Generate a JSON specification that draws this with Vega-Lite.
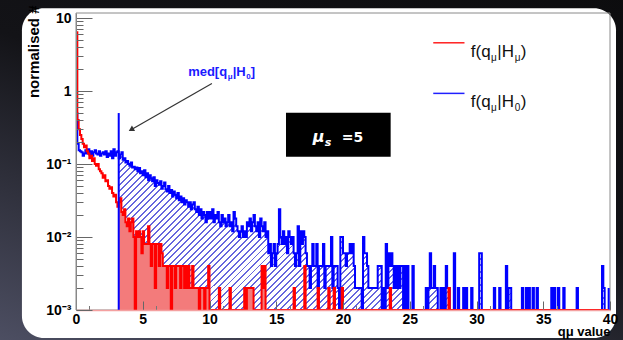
{
"$schema":"https://vega.github.io/schema/vega-lite/v6.json",
"width":534,"height":297,
"autosize":{"type":"none"},
"padding":{"left":76,"top":13,"right":13,"bottom":30},
"background":"#0e0e10",
"config":{"view":{"stroke":null},"axis":{"labelFont":"Liberation Sans","titleFont":"Liberation Sans"}},
"datasets":{
"one":[{}],
"hist":[
{"q":0,"h0":0.5,"hmu":6.4},{"q":0.1,"h0":0.19,"hmu":0.4},{"q":0.2,"h0":0.155,"hmu":0.3},{"q":0.3,"h0":0.15,"hmu":0.25},{"q":0.4,"h0":0.145,"hmu":0.22},{"q":0.5,"h0":0.13,"hmu":0.19},{"q":0.6,"h0":0.14,"hmu":0.17},{"q":0.7,"h0":0.155,"hmu":0.18},{"q":0.8,"h0":0.14,"hmu":0.15},{"q":0.9,"h0":0.16,"hmu":0.14},
{"q":1,"h0":0.135,"hmu":0.12},{"q":1.1,"h0":0.15,"hmu":0.13},{"q":1.2,"h0":0.13,"hmu":0.11},{"q":1.3,"h0":0.145,"hmu":0.12},{"q":1.4,"h0":0.155,"hmu":0.1},{"q":1.5,"h0":0.14,"hmu":0.095},{"q":1.6,"h0":0.135,"hmu":0.1},{"q":1.7,"h0":0.15,"hmu":0.085},{"q":1.8,"h0":0.13,"hmu":0.08},{"q":1.9,"h0":0.14,"hmu":0.075},
{"q":2,"h0":0.145,"hmu":0.065},{"q":2.1,"h0":0.135,"hmu":0.07},{"q":2.2,"h0":0.15,"hmu":0.058},{"q":2.3,"h0":0.125,"hmu":0.06},{"q":2.4,"h0":0.14,"hmu":0.05},{"q":2.5,"h0":0.13,"hmu":0.046},{"q":2.6,"h0":0.15,"hmu":0.048},{"q":2.7,"h0":0.12,"hmu":0.04},{"q":2.8,"h0":0.16,"hmu":0.036},{"q":2.9,"h0":0.13,"hmu":0.038},
{"q":3,"h0":0.145,"hmu":0.03},{"q":3.1,"h0":0.15,"hmu":0.026},{"q":3.2,"h0":0.12,"hmu":0.03},{"q":3.3,"h0":0.135,"hmu":0.034},{"q":3.4,"h0":0.145,"hmu":0.022},{"q":3.5,"h0":0.115,"hmu":0.02},{"q":3.6,"h0":0.12,"hmu":0.024},{"q":3.7,"h0":0.105,"hmu":0.016},{"q":3.8,"h0":0.11,"hmu":0.014},{"q":3.9,"h0":0.1,"hmu":0.018},
{"q":4,"h0":0.095,"hmu":0.012},{"q":4.1,"h0":0.105,"hmu":0.016},{"q":4.2,"h0":0.09,"hmu":0.018},{"q":4.3,"h0":0.092,"hmu":0.01},{"q":4.4,"h0":0.085,"hmu":0},{"q":4.5,"h0":0.09,"hmu":0.012},{"q":4.6,"h0":0.08,"hmu":0.01},{"q":4.7,"h0":0.088,"hmu":0.012},{"q":4.8,"h0":0.075,"hmu":0.01},{"q":4.9,"h0":0.08,"hmu":0.006},
{"q":5,"h0":0.07,"hmu":0.012},{"q":5.1,"h0":0.082,"hmu":0.008},{"q":5.2,"h0":0.066,"hmu":0.008},{"q":5.3,"h0":0.075,"hmu":0.008},{"q":5.4,"h0":0.06,"hmu":0.014},{"q":5.5,"h0":0.07,"hmu":0.008},{"q":5.6,"h0":0.064,"hmu":0.004},{"q":5.7,"h0":0.058,"hmu":0.008},{"q":5.8,"h0":0.066,"hmu":0.008},{"q":5.9,"h0":0.05,"hmu":0.002},
{"q":6,"h0":0.06,"hmu":0.008},{"q":6.1,"h0":0.055,"hmu":0.008},{"q":6.2,"h0":0.052,"hmu":0.004},{"q":6.3,"h0":0.058,"hmu":0.008},{"q":6.4,"h0":0.046,"hmu":0.006},{"q":6.5,"h0":0.05,"hmu":0.004},{"q":6.6,"h0":0.056,"hmu":0.004},{"q":6.7,"h0":0.045,"hmu":0.004},{"q":6.8,"h0":0.042,"hmu":0.002},{"q":6.9,"h0":0.05,"hmu":0.004},
{"q":7,"h0":0.04,"hmu":0.004},{"q":7.1,"h0":0.044,"hmu":0},{"q":7.2,"h0":0.036,"hmu":0.004},{"q":7.3,"h0":0.042,"hmu":0.004},{"q":7.4,"h0":0.038,"hmu":0.002},{"q":7.5,"h0":0.034,"hmu":0.004},{"q":7.6,"h0":0.04,"hmu":0.004},{"q":7.7,"h0":0.032,"hmu":0.004},{"q":7.8,"h0":0.036,"hmu":0.002},{"q":7.9,"h0":0.03,"hmu":0.004},
{"q":8,"h0":0.034,"hmu":0.004},{"q":8.1,"h0":0.028,"hmu":0.002},{"q":8.2,"h0":0.032,"hmu":0.004},{"q":8.3,"h0":0.03,"hmu":0.002},{"q":8.4,"h0":0.026,"hmu":0.004},{"q":8.5,"h0":0.03,"hmu":0.002},{"q":8.6,"h0":0.024,"hmu":0.002},{"q":8.7,"h0":0.028,"hmu":0.004},{"q":8.8,"h0":0.03,"hmu":0.002},{"q":8.9,"h0":0.024,"hmu":0.002},
{"q":9,"h0":0.022,"hmu":0.002},{"q":9.1,"h0":0.026,"hmu":0.002},{"q":9.2,"h0":0.02,"hmu":0},{"q":9.3,"h0":0.024,"hmu":0.002},{"q":9.4,"h0":0.018,"hmu":0.002},{"q":9.5,"h0":0.022,"hmu":0.002},{"q":9.6,"h0":0.02,"hmu":0},{"q":9.7,"h0":0.016,"hmu":0.002},{"q":9.8,"h0":0.022,"hmu":0.002},{"q":9.9,"h0":0.018,"hmu":0.004},
{"q":10,"h0":0.022,"hmu":0},{"q":10.1,"h0":0.018,"hmu":0},{"q":10.2,"h0":0.024,"hmu":0},{"q":10.3,"h0":0.016,"hmu":0},{"q":10.4,"h0":0.02,"hmu":0},{"q":10.5,"h0":0.018,"hmu":0},{"q":10.6,"h0":0.022,"hmu":0},{"q":10.7,"h0":0.016,"hmu":0.002},{"q":10.8,"h0":0.014,"hmu":0},{"q":10.9,"h0":0.02,"hmu":0},
{"q":11,"h0":0.016,"hmu":0},{"q":11.1,"h0":0.018,"hmu":0},{"q":11.2,"h0":0.014,"hmu":0},{"q":11.3,"h0":0.016,"hmu":0},{"q":11.4,"h0":0.02,"hmu":0},{"q":11.5,"h0":0.014,"hmu":0.002},{"q":11.6,"h0":0.016,"hmu":0},{"q":11.7,"h0":0.012,"hmu":0},{"q":11.8,"h0":0.022,"hmu":0},{"q":11.9,"h0":0.018,"hmu":0},
{"q":12,"h0":0.014,"hmu":0},{"q":12.1,"h0":0.012,"hmu":0},{"q":12.2,"h0":0.01,"hmu":0},{"q":12.3,"h0":0.012,"hmu":0},{"q":12.4,"h0":0.014,"hmu":0},{"q":12.5,"h0":0.01,"hmu":0},{"q":12.6,"h0":0.012,"hmu":0.002},{"q":12.7,"h0":0.01,"hmu":0},{"q":12.8,"h0":0.016,"hmu":0.002},{"q":12.9,"h0":0.014,"hmu":0.002},
{"q":13,"h0":0.018,"hmu":0.002},{"q":13.1,"h0":0.012,"hmu":0.002},{"q":13.2,"h0":0.016,"hmu":0.002},{"q":13.3,"h0":0.02,"hmu":0},{"q":13.4,"h0":0.014,"hmu":0},{"q":13.5,"h0":0.012,"hmu":0},{"q":13.6,"h0":0.016,"hmu":0},{"q":13.7,"h0":0.01,"hmu":0},{"q":13.8,"h0":0.018,"hmu":0},{"q":13.9,"h0":0.014,"hmu":0.004},
{"q":14,"h0":0.012,"hmu":0.002},{"q":14.1,"h0":0.016,"hmu":0.004},{"q":14.2,"h0":0.01,"hmu":0},{"q":14.3,"h0":0.012,"hmu":0},{"q":14.4,"h0":0.006,"hmu":0},{"q":14.5,"h0":0.008,"hmu":0},{"q":14.6,"h0":0.004,"hmu":0},{"q":14.7,"h0":0.006,"hmu":0},{"q":14.8,"h0":0.008,"hmu":0},{"q":14.9,"h0":0.004,"hmu":0},
{"q":15,"h0":0.006,"hmu":0},{"q":15.1,"h0":0.008,"hmu":0},{"q":15.2,"h0":0.024,"hmu":0},{"q":15.3,"h0":0.01,"hmu":0},{"q":15.4,"h0":0.008,"hmu":0},{"q":15.5,"h0":0.012,"hmu":0},{"q":15.6,"h0":0.008,"hmu":0},{"q":15.7,"h0":0.01,"hmu":0},{"q":15.8,"h0":0.006,"hmu":0},{"q":15.9,"h0":0.012,"hmu":0},
{"q":16,"h0":0.01,"hmu":0},{"q":16.1,"h0":0.008,"hmu":0},{"q":16.2,"h0":0.01,"hmu":0},{"q":16.3,"h0":0.006,"hmu":0.002},{"q":16.4,"h0":0.004,"hmu":0},{"q":16.5,"h0":0.006,"hmu":0},{"q":16.6,"h0":0.014,"hmu":0},{"q":16.7,"h0":0.004,"hmu":0},{"q":16.8,"h0":0.012,"hmu":0},{"q":16.9,"h0":0.008,"hmu":0},
{"q":17,"h0":0.012,"hmu":0},{"q":17.1,"h0":0.01,"hmu":0.004},{"q":17.2,"h0":0.006,"hmu":0},{"q":17.3,"h0":0.004,"hmu":0},{"q":17.4,"h0":0.004,"hmu":0},{"q":17.5,"h0":0.002,"hmu":0},{"q":17.6,"h0":0.004,"hmu":0},{"q":17.7,"h0":0.008,"hmu":0},{"q":17.8,"h0":0.004,"hmu":0},{"q":17.9,"h0":0.004,"hmu":0},
{"q":18,"h0":0.008,"hmu":0},{"q":18.1,"h0":0.002,"hmu":0.002},{"q":18.2,"h0":0.004,"hmu":0},{"q":18.3,"h0":0.004,"hmu":0},{"q":18.4,"h0":0.004,"hmu":0},{"q":18.5,"h0":0.008,"hmu":0},{"q":18.6,"h0":0.002,"hmu":0},{"q":18.7,"h0":0.004,"hmu":0},{"q":18.8,"h0":0.004,"hmu":0},{"q":18.9,"h0":0.004,"hmu":0.002},
{"q":19,"h0":0.004,"hmu":0},{"q":19.1,"h0":0.01,"hmu":0},{"q":19.2,"h0":0.002,"hmu":0},{"q":19.3,"h0":0.004,"hmu":0.002},{"q":19.4,"h0":0.004,"hmu":0},{"q":19.5,"h0":0.004,"hmu":0},{"q":19.6,"h0":0.002,"hmu":0},{"q":19.7,"h0":0,"hmu":0},{"q":19.8,"h0":0.01,"hmu":0},{"q":19.9,"h0":0.01,"hmu":0.002},
{"q":20,"h0":0.006,"hmu":0},{"q":20.1,"h0":0.006,"hmu":0},{"q":20.2,"h0":0.004,"hmu":0},{"q":20.3,"h0":0.006,"hmu":0},{"q":20.4,"h0":0.006,"hmu":0},{"q":20.5,"h0":0.008,"hmu":0},{"q":20.6,"h0":0.006,"hmu":0},{"q":20.7,"h0":0.008,"hmu":0},{"q":20.8,"h0":0.004,"hmu":0},{"q":20.9,"h0":0.002,"hmu":0},
{"q":21,"h0":0.002,"hmu":0},{"q":21.1,"h0":0.002,"hmu":0},{"q":21.2,"h0":0.002,"hmu":0},{"q":21.3,"h0":0.002,"hmu":0},{"q":21.4,"h0":0,"hmu":0},{"q":21.5,"h0":0.01,"hmu":0},{"q":21.6,"h0":0.006,"hmu":0},{"q":21.7,"h0":0.006,"hmu":0},{"q":21.8,"h0":0.004,"hmu":0},{"q":21.9,"h0":0.002,"hmu":0},
{"q":22,"h0":0.002,"hmu":0},{"q":22.1,"h0":0.002,"hmu":0},{"q":22.2,"h0":0.002,"hmu":0},{"q":22.3,"h0":0.002,"hmu":0},{"q":22.4,"h0":0.002,"hmu":0},{"q":22.5,"h0":0.002,"hmu":0},{"q":22.6,"h0":0.004,"hmu":0},{"q":22.7,"h0":0.004,"hmu":0},{"q":22.8,"h0":0.004,"hmu":0},{"q":22.9,"h0":0,"hmu":0},
{"q":23,"h0":0.002,"hmu":0},{"q":23.1,"h0":0,"hmu":0},{"q":23.2,"h0":0.008,"hmu":0},{"q":23.3,"h0":0.002,"hmu":0},{"q":23.4,"h0":0.006,"hmu":0},{"q":23.5,"h0":0.004,"hmu":0.002},{"q":23.6,"h0":0.006,"hmu":0},{"q":23.7,"h0":0.004,"hmu":0},{"q":23.8,"h0":0.002,"hmu":0},{"q":23.9,"h0":0.004,"hmu":0},
{"q":24,"h0":0.002,"hmu":0},{"q":24.1,"h0":0.004,"hmu":0},{"q":24.2,"h0":0.002,"hmu":0},{"q":24.3,"h0":0.004,"hmu":0},{"q":24.4,"h0":0.004,"hmu":0},{"q":24.5,"h0":0,"hmu":0},{"q":24.6,"h0":0.004,"hmu":0},{"q":24.7,"h0":0,"hmu":0},{"q":24.8,"h0":0.004,"hmu":0},{"q":24.9,"h0":0,"hmu":0},
{"q":25,"h0":0,"hmu":0},{"q":25.1,"h0":0,"hmu":0},{"q":25.2,"h0":0.004,"hmu":0},{"q":25.3,"h0":0,"hmu":0},{"q":25.4,"h0":0,"hmu":0},{"q":25.5,"h0":0,"hmu":0},{"q":25.6,"h0":0,"hmu":0},{"q":25.7,"h0":0,"hmu":0},{"q":25.8,"h0":0,"hmu":0},{"q":25.9,"h0":0,"hmu":0},
{"q":26,"h0":0,"hmu":0},{"q":26.1,"h0":0,"hmu":0},{"q":26.2,"h0":0.002,"hmu":0},{"q":26.3,"h0":0,"hmu":0},{"q":26.4,"h0":0.002,"hmu":0},{"q":26.5,"h0":0.006,"hmu":0},{"q":26.6,"h0":0.002,"hmu":0},{"q":26.7,"h0":0.002,"hmu":0},{"q":26.8,"h0":0.004,"hmu":0},{"q":26.9,"h0":0.002,"hmu":0},
{"q":27,"h0":0.002,"hmu":0},{"q":27.1,"h0":0,"hmu":0},{"q":27.2,"h0":0,"hmu":0},{"q":27.3,"h0":0.002,"hmu":0},{"q":27.4,"h0":0,"hmu":0},{"q":27.5,"h0":0.002,"hmu":0},{"q":27.6,"h0":0,"hmu":0},{"q":27.7,"h0":0.004,"hmu":0},{"q":27.8,"h0":0.002,"hmu":0},{"q":27.9,"h0":0.002,"hmu":0.002},
{"q":28,"h0":0,"hmu":0},{"q":28.1,"h0":0,"hmu":0},{"q":28.2,"h0":0,"hmu":0},{"q":28.3,"h0":0.006,"hmu":0},{"q":28.4,"h0":0,"hmu":0},{"q":28.5,"h0":0,"hmu":0},{"q":28.6,"h0":0.002,"hmu":0},{"q":28.7,"h0":0,"hmu":0},{"q":28.8,"h0":0,"hmu":0},{"q":28.9,"h0":0,"hmu":0},
{"q":29,"h0":0.002,"hmu":0},{"q":29.1,"h0":0,"hmu":0},{"q":29.2,"h0":0.002,"hmu":0},{"q":29.3,"h0":0,"hmu":0},{"q":29.4,"h0":0,"hmu":0},{"q":29.5,"h0":0,"hmu":0},{"q":29.6,"h0":0.002,"hmu":0},{"q":29.7,"h0":0,"hmu":0},{"q":29.8,"h0":0,"hmu":0},{"q":29.9,"h0":0,"hmu":0},
{"q":30,"h0":0,"hmu":0},{"q":30.1,"h0":0,"hmu":0},{"q":30.2,"h0":0.006,"hmu":0},{"q":30.3,"h0":0.006,"hmu":0},{"q":30.4,"h0":0,"hmu":0},{"q":30.5,"h0":0,"hmu":0},{"q":30.6,"h0":0,"hmu":0},{"q":30.7,"h0":0,"hmu":0},{"q":30.8,"h0":0,"hmu":0},{"q":30.9,"h0":0,"hmu":0},
{"q":31,"h0":0,"hmu":0},{"q":31.1,"h0":0,"hmu":0},{"q":31.2,"h0":0,"hmu":0},{"q":31.3,"h0":0.002,"hmu":0},{"q":31.4,"h0":0,"hmu":0},{"q":31.5,"h0":0,"hmu":0},{"q":31.6,"h0":0,"hmu":0},{"q":31.7,"h0":0.002,"hmu":0},{"q":31.8,"h0":0,"hmu":0},{"q":31.9,"h0":0,"hmu":0},
{"q":32,"h0":0,"hmu":0},{"q":32.1,"h0":0,"hmu":0},{"q":32.2,"h0":0.004,"hmu":0},{"q":32.3,"h0":0,"hmu":0},{"q":32.4,"h0":0.002,"hmu":0},{"q":32.5,"h0":0.002,"hmu":0},{"q":32.6,"h0":0,"hmu":0},{"q":32.7,"h0":0,"hmu":0},{"q":32.8,"h0":0,"hmu":0},{"q":32.9,"h0":0,"hmu":0},
{"q":33,"h0":0,"hmu":0},{"q":33.1,"h0":0,"hmu":0},{"q":33.2,"h0":0,"hmu":0},{"q":33.3,"h0":0,"hmu":0},{"q":33.4,"h0":0.002,"hmu":0},{"q":33.5,"h0":0,"hmu":0},{"q":33.6,"h0":0,"hmu":0},{"q":33.7,"h0":0.002,"hmu":0},{"q":33.8,"h0":0,"hmu":0},{"q":33.9,"h0":0.002,"hmu":0},
{"q":34,"h0":0,"hmu":0},{"q":34.1,"h0":0,"hmu":0},{"q":34.2,"h0":0.002,"hmu":0},{"q":34.3,"h0":0,"hmu":0},{"q":34.4,"h0":0,"hmu":0},{"q":34.5,"h0":0.002,"hmu":0},{"q":34.6,"h0":0,"hmu":0},{"q":34.7,"h0":0,"hmu":0},{"q":34.8,"h0":0,"hmu":0},{"q":34.9,"h0":0,"hmu":0},
{"q":35,"h0":0,"hmu":0},{"q":35.1,"h0":0,"hmu":0},{"q":35.2,"h0":0,"hmu":0},{"q":35.3,"h0":0,"hmu":0},{"q":35.4,"h0":0,"hmu":0},{"q":35.5,"h0":0,"hmu":0},{"q":35.6,"h0":0.002,"hmu":0},{"q":35.7,"h0":0,"hmu":0},{"q":35.8,"h0":0.002,"hmu":0},{"q":35.9,"h0":0,"hmu":0},
{"q":36,"h0":0,"hmu":0},{"q":36.1,"h0":0.002,"hmu":0},{"q":36.2,"h0":0,"hmu":0},{"q":36.3,"h0":0,"hmu":0},{"q":36.4,"h0":0,"hmu":0},{"q":36.5,"h0":0.002,"hmu":0},{"q":36.6,"h0":0,"hmu":0},{"q":36.7,"h0":0,"hmu":0},{"q":36.8,"h0":0,"hmu":0},{"q":36.9,"h0":0,"hmu":0},
{"q":37,"h0":0,"hmu":0},{"q":37.1,"h0":0,"hmu":0},{"q":37.2,"h0":0,"hmu":0},{"q":37.3,"h0":0,"hmu":0},{"q":37.4,"h0":0,"hmu":0},{"q":37.5,"h0":0.002,"hmu":0},{"q":37.6,"h0":0,"hmu":0},{"q":37.7,"h0":0,"hmu":0},{"q":37.8,"h0":0,"hmu":0},{"q":37.9,"h0":0,"hmu":0},
{"q":38,"h0":0,"hmu":0},{"q":38.1,"h0":0,"hmu":0},{"q":38.2,"h0":0,"hmu":0},{"q":38.3,"h0":0,"hmu":0},{"q":38.4,"h0":0,"hmu":0},{"q":38.5,"h0":0,"hmu":0},{"q":38.6,"h0":0,"hmu":0},{"q":38.7,"h0":0,"hmu":0},{"q":38.8,"h0":0,"hmu":0},{"q":38.9,"h0":0,"hmu":0},
{"q":39,"h0":0,"hmu":0},{"q":39.1,"h0":0,"hmu":0},{"q":39.2,"h0":0,"hmu":0},{"q":39.3,"h0":0,"hmu":0},{"q":39.4,"h0":0.004,"hmu":0},{"q":39.5,"h0":0.002,"hmu":0},{"q":39.6,"h0":0,"hmu":0},{"q":39.7,"h0":0,"hmu":0},{"q":39.8,"h0":0,"hmu":0},{"q":39.9,"h0":0.002,"hmu":0}
]},
"layer":[
{"data":{"name":"one"},"layer":[
 {"mark":{"type":"rect","fill":{"gradient":"linear","x1":0.85,"y1":0,"x2":0.07,"y2":1,"stops":[{"offset":0,"color":"#0c0c0e"},{"offset":0.45,"color":"#131317"},{"offset":1,"color":"#4e5064"}]}},
  "encoding":{"x":{"datum":-10,"type":"quantitative","scale":{"domain":[0,40]},
     "axis":{"orient":"bottom","values":[1,2,3,4,6,7,8,9,11,12,13,14,16,17,18,19,21,22,23,24,26,27,28,29,31,32,33,34,36,37,38,39],"labels":false,"domain":false,"grid":false,"title":null,"tickSize":-4.5,"tickColor":"#777","tickWidth":1,"zindex":1}},
   "x2":{"datum":50},"y":{"datum":0.0003,"type":"quantitative","scale":{"type":"log","domain":[0.001,11.75]},"axis":null},"y2":{"datum":25}}},
 {"mark":{"type":"rect","fill":"#ffffff","cornerRadius":22},
  "encoding":{"x":{"datum":-4.05,"type":"quantitative","scale":{"domain":[0,40]}},"x2":{"datum":40.45},"y":{"datum":0.000413,"type":"quantitative","scale":{"type":"log","domain":[0.001,11.75]},"axis":null},"y2":{"datum":13.7}}}
]},
{"layer":[
 {"data":{"name":"one"},"mark":{"type":"rect","fillOpacity":0,"stroke":"#8a8a8a","strokeWidth":1},
  "encoding":{"x":{"datum":0,"type":"quantitative","scale":{"domain":[0,40]},
     "axis":{"orient":"bottom","values":[0,5,10,15,20,25,30,35,40],"format":"d",
       "tickSize":-9,"tickColor":"#666","tickWidth":1,"domainColor":"#f4a0a0","domainWidth":1.5,
       "labelFontWeight":"bold","labelFontSize":14,"labelColor":"#000","labelPadding":11,"labelFlush":false,"labelOverlap":false,"labelBound":false,"grid":false,
       "title":"qμ value","titleFontWeight":"bold","titleFontSize":13,"titleColor":"#000","titleAnchor":"end","titleAlign":"right","titleBaseline":"alphabetic","titleY":25.5,"zindex":1}},
   "x2":{"datum":40},"y":{"datum":0.001,"type":"quantitative","scale":{"type":"log","domain":[0.001,11.75],"clamp":true}},"y2":{"datum":11.75}}},
 {"data":{"name":"hist"},"transform":[{"filter":"datum.q >= 3.2"}],
  "mark":{"type":"area","interpolate":"step-after","invalid":"show","clip":true,
   "fill":{"gradient":"linear","x1":0,"y1":0,"x2":1.2,"y2":0.3865,"stops":[
{"offset":0,"color":"#66d"},{"offset":0.003,"color":"#66d"},{"offset":0.003,"color":"#fff"},{"offset":0.01,"color":"#fff"},
{"offset":0.01,"color":"#66d"},{"offset":0.013,"color":"#66d"},{"offset":0.013,"color":"#fff"},{"offset":0.02,"color":"#fff"},
{"offset":0.02,"color":"#66d"},{"offset":0.023,"color":"#66d"},{"offset":0.023,"color":"#fff"},{"offset":0.03,"color":"#fff"},
{"offset":0.03,"color":"#66d"},{"offset":0.033,"color":"#66d"},{"offset":0.033,"color":"#fff"},{"offset":0.04,"color":"#fff"},
{"offset":0.04,"color":"#66d"},{"offset":0.043,"color":"#66d"},{"offset":0.043,"color":"#fff"},{"offset":0.05,"color":"#fff"},
{"offset":0.05,"color":"#66d"},{"offset":0.053,"color":"#66d"},{"offset":0.053,"color":"#fff"},{"offset":0.06,"color":"#fff"},
{"offset":0.06,"color":"#66d"},{"offset":0.063,"color":"#66d"},{"offset":0.063,"color":"#fff"},{"offset":0.07,"color":"#fff"},
{"offset":0.07,"color":"#66d"},{"offset":0.073,"color":"#66d"},{"offset":0.073,"color":"#fff"},{"offset":0.08,"color":"#fff"},
{"offset":0.08,"color":"#66d"},{"offset":0.083,"color":"#66d"},{"offset":0.083,"color":"#fff"},{"offset":0.09,"color":"#fff"},
{"offset":0.09,"color":"#66d"},{"offset":0.093,"color":"#66d"},{"offset":0.093,"color":"#fff"},{"offset":0.1,"color":"#fff"},
{"offset":0.1,"color":"#66d"},{"offset":0.103,"color":"#66d"},{"offset":0.103,"color":"#fff"},{"offset":0.11,"color":"#fff"},
{"offset":0.11,"color":"#66d"},{"offset":0.113,"color":"#66d"},{"offset":0.113,"color":"#fff"},{"offset":0.12,"color":"#fff"},
{"offset":0.12,"color":"#66d"},{"offset":0.123,"color":"#66d"},{"offset":0.123,"color":"#fff"},{"offset":0.13,"color":"#fff"},
{"offset":0.13,"color":"#66d"},{"offset":0.133,"color":"#66d"},{"offset":0.133,"color":"#fff"},{"offset":0.14,"color":"#fff"},
{"offset":0.14,"color":"#66d"},{"offset":0.143,"color":"#66d"},{"offset":0.143,"color":"#fff"},{"offset":0.15,"color":"#fff"},
{"offset":0.15,"color":"#66d"},{"offset":0.153,"color":"#66d"},{"offset":0.153,"color":"#fff"},{"offset":0.16,"color":"#fff"},
{"offset":0.16,"color":"#66d"},{"offset":0.163,"color":"#66d"},{"offset":0.163,"color":"#fff"},{"offset":0.17,"color":"#fff"},
{"offset":0.17,"color":"#66d"},{"offset":0.173,"color":"#66d"},{"offset":0.173,"color":"#fff"},{"offset":0.18,"color":"#fff"},
{"offset":0.18,"color":"#66d"},{"offset":0.183,"color":"#66d"},{"offset":0.183,"color":"#fff"},{"offset":0.19,"color":"#fff"},
{"offset":0.19,"color":"#66d"},{"offset":0.193,"color":"#66d"},{"offset":0.193,"color":"#fff"},{"offset":0.2,"color":"#fff"},
{"offset":0.2,"color":"#66d"},{"offset":0.203,"color":"#66d"},{"offset":0.203,"color":"#fff"},{"offset":0.21,"color":"#fff"},
{"offset":0.21,"color":"#66d"},{"offset":0.213,"color":"#66d"},{"offset":0.213,"color":"#fff"},{"offset":0.22,"color":"#fff"},
{"offset":0.22,"color":"#66d"},{"offset":0.223,"color":"#66d"},{"offset":0.223,"color":"#fff"},{"offset":0.23,"color":"#fff"},
{"offset":0.23,"color":"#66d"},{"offset":0.233,"color":"#66d"},{"offset":0.233,"color":"#fff"},{"offset":0.24,"color":"#fff"},
{"offset":0.24,"color":"#66d"},{"offset":0.243,"color":"#66d"},{"offset":0.243,"color":"#fff"},{"offset":0.25,"color":"#fff"},
{"offset":0.25,"color":"#66d"},{"offset":0.253,"color":"#66d"},{"offset":0.253,"color":"#fff"},{"offset":0.26,"color":"#fff"},
{"offset":0.26,"color":"#66d"},{"offset":0.263,"color":"#66d"},{"offset":0.263,"color":"#fff"},{"offset":0.27,"color":"#fff"},
{"offset":0.27,"color":"#66d"},{"offset":0.273,"color":"#66d"},{"offset":0.273,"color":"#fff"},{"offset":0.28,"color":"#fff"},
{"offset":0.28,"color":"#66d"},{"offset":0.283,"color":"#66d"},{"offset":0.283,"color":"#fff"},{"offset":0.29,"color":"#fff"},
{"offset":0.29,"color":"#66d"},{"offset":0.293,"color":"#66d"},{"offset":0.293,"color":"#fff"},{"offset":0.3,"color":"#fff"},
{"offset":0.3,"color":"#66d"},{"offset":0.303,"color":"#66d"},{"offset":0.303,"color":"#fff"},{"offset":0.31,"color":"#fff"},
{"offset":0.31,"color":"#66d"},{"offset":0.313,"color":"#66d"},{"offset":0.313,"color":"#fff"},{"offset":0.32,"color":"#fff"},
{"offset":0.32,"color":"#66d"},{"offset":0.323,"color":"#66d"},{"offset":0.323,"color":"#fff"},{"offset":0.33,"color":"#fff"},
{"offset":0.33,"color":"#66d"},{"offset":0.333,"color":"#66d"},{"offset":0.333,"color":"#fff"},{"offset":0.34,"color":"#fff"},
{"offset":0.34,"color":"#66d"},{"offset":0.343,"color":"#66d"},{"offset":0.343,"color":"#fff"},{"offset":0.35,"color":"#fff"},
{"offset":0.35,"color":"#66d"},{"offset":0.353,"color":"#66d"},{"offset":0.353,"color":"#fff"},{"offset":0.36,"color":"#fff"},
{"offset":0.36,"color":"#66d"},{"offset":0.363,"color":"#66d"},{"offset":0.363,"color":"#fff"},{"offset":0.37,"color":"#fff"},
{"offset":0.37,"color":"#66d"},{"offset":0.373,"color":"#66d"},{"offset":0.373,"color":"#fff"},{"offset":0.38,"color":"#fff"},
{"offset":0.38,"color":"#66d"},{"offset":0.383,"color":"#66d"},{"offset":0.383,"color":"#fff"},{"offset":0.39,"color":"#fff"},
{"offset":0.39,"color":"#66d"},{"offset":0.393,"color":"#66d"},{"offset":0.393,"color":"#fff"},{"offset":0.4,"color":"#fff"},
{"offset":0.4,"color":"#66d"},{"offset":0.403,"color":"#66d"},{"offset":0.403,"color":"#fff"},{"offset":0.41,"color":"#fff"},
{"offset":0.41,"color":"#66d"},{"offset":0.413,"color":"#66d"},{"offset":0.413,"color":"#fff"},{"offset":0.42,"color":"#fff"},
{"offset":0.42,"color":"#66d"},{"offset":0.423,"color":"#66d"},{"offset":0.423,"color":"#fff"},{"offset":0.43,"color":"#fff"},
{"offset":0.43,"color":"#66d"},{"offset":0.433,"color":"#66d"},{"offset":0.433,"color":"#fff"},{"offset":0.44,"color":"#fff"},
{"offset":0.44,"color":"#66d"},{"offset":0.443,"color":"#66d"},{"offset":0.443,"color":"#fff"},{"offset":0.45,"color":"#fff"},
{"offset":0.45,"color":"#66d"},{"offset":0.453,"color":"#66d"},{"offset":0.453,"color":"#fff"},{"offset":0.46,"color":"#fff"},
{"offset":0.46,"color":"#66d"},{"offset":0.463,"color":"#66d"},{"offset":0.463,"color":"#fff"},{"offset":0.47,"color":"#fff"},
{"offset":0.47,"color":"#66d"},{"offset":0.473,"color":"#66d"},{"offset":0.473,"color":"#fff"},{"offset":0.48,"color":"#fff"},
{"offset":0.48,"color":"#66d"},{"offset":0.483,"color":"#66d"},{"offset":0.483,"color":"#fff"},{"offset":0.49,"color":"#fff"},
{"offset":0.49,"color":"#66d"},{"offset":0.493,"color":"#66d"},{"offset":0.493,"color":"#fff"},{"offset":0.5,"color":"#fff"},
{"offset":0.5,"color":"#66d"},{"offset":0.503,"color":"#66d"},{"offset":0.503,"color":"#fff"},{"offset":0.51,"color":"#fff"},
{"offset":0.51,"color":"#66d"},{"offset":0.513,"color":"#66d"},{"offset":0.513,"color":"#fff"},{"offset":0.52,"color":"#fff"},
{"offset":0.52,"color":"#66d"},{"offset":0.523,"color":"#66d"},{"offset":0.523,"color":"#fff"},{"offset":0.53,"color":"#fff"},
{"offset":0.53,"color":"#66d"},{"offset":0.533,"color":"#66d"},{"offset":0.533,"color":"#fff"},{"offset":0.54,"color":"#fff"},
{"offset":0.54,"color":"#66d"},{"offset":0.543,"color":"#66d"},{"offset":0.543,"color":"#fff"},{"offset":0.55,"color":"#fff"},
{"offset":0.55,"color":"#66d"},{"offset":0.553,"color":"#66d"},{"offset":0.553,"color":"#fff"},{"offset":0.56,"color":"#fff"},
{"offset":0.56,"color":"#66d"},{"offset":0.563,"color":"#66d"},{"offset":0.563,"color":"#fff"},{"offset":0.57,"color":"#fff"},
{"offset":0.57,"color":"#66d"},{"offset":0.573,"color":"#66d"},{"offset":0.573,"color":"#fff"},{"offset":0.58,"color":"#fff"},
{"offset":0.58,"color":"#66d"},{"offset":0.583,"color":"#66d"},{"offset":0.583,"color":"#fff"},{"offset":0.59,"color":"#fff"},
{"offset":0.59,"color":"#66d"},{"offset":0.593,"color":"#66d"},{"offset":0.593,"color":"#fff"},{"offset":0.6,"color":"#fff"},
{"offset":0.6,"color":"#66d"},{"offset":0.603,"color":"#66d"},{"offset":0.603,"color":"#fff"},{"offset":0.61,"color":"#fff"},
{"offset":0.61,"color":"#66d"},{"offset":0.613,"color":"#66d"},{"offset":0.613,"color":"#fff"},{"offset":0.62,"color":"#fff"},
{"offset":0.62,"color":"#66d"},{"offset":0.623,"color":"#66d"},{"offset":0.623,"color":"#fff"},{"offset":0.63,"color":"#fff"},
{"offset":0.63,"color":"#66d"},{"offset":0.633,"color":"#66d"},{"offset":0.633,"color":"#fff"},{"offset":0.64,"color":"#fff"},
{"offset":0.64,"color":"#66d"},{"offset":0.643,"color":"#66d"},{"offset":0.643,"color":"#fff"},{"offset":0.65,"color":"#fff"},
{"offset":0.65,"color":"#66d"},{"offset":0.653,"color":"#66d"},{"offset":0.653,"color":"#fff"},{"offset":0.66,"color":"#fff"},
{"offset":0.66,"color":"#66d"},{"offset":0.663,"color":"#66d"},{"offset":0.663,"color":"#fff"},{"offset":0.67,"color":"#fff"},
{"offset":0.67,"color":"#66d"},{"offset":0.673,"color":"#66d"},{"offset":0.673,"color":"#fff"},{"offset":0.68,"color":"#fff"},
{"offset":0.68,"color":"#66d"},{"offset":0.683,"color":"#66d"},{"offset":0.683,"color":"#fff"},{"offset":0.69,"color":"#fff"},
{"offset":0.69,"color":"#66d"},{"offset":0.693,"color":"#66d"},{"offset":0.693,"color":"#fff"},{"offset":0.7,"color":"#fff"},
{"offset":0.7,"color":"#66d"},{"offset":0.703,"color":"#66d"},{"offset":0.703,"color":"#fff"},{"offset":0.71,"color":"#fff"},
{"offset":0.71,"color":"#66d"},{"offset":0.713,"color":"#66d"},{"offset":0.713,"color":"#fff"},{"offset":0.72,"color":"#fff"},
{"offset":0.72,"color":"#66d"},{"offset":0.723,"color":"#66d"},{"offset":0.723,"color":"#fff"},{"offset":0.73,"color":"#fff"},
{"offset":0.73,"color":"#66d"},{"offset":0.733,"color":"#66d"},{"offset":0.733,"color":"#fff"},{"offset":0.74,"color":"#fff"},
{"offset":0.74,"color":"#66d"},{"offset":0.743,"color":"#66d"},{"offset":0.743,"color":"#fff"},{"offset":0.75,"color":"#fff"},
{"offset":0.75,"color":"#66d"},{"offset":0.753,"color":"#66d"},{"offset":0.753,"color":"#fff"},{"offset":0.76,"color":"#fff"},
{"offset":0.76,"color":"#66d"},{"offset":0.763,"color":"#66d"},{"offset":0.763,"color":"#fff"},{"offset":0.77,"color":"#fff"},
{"offset":0.77,"color":"#66d"},{"offset":0.773,"color":"#66d"},{"offset":0.773,"color":"#fff"},{"offset":0.78,"color":"#fff"},
{"offset":0.78,"color":"#66d"},{"offset":0.783,"color":"#66d"},{"offset":0.783,"color":"#fff"},{"offset":0.79,"color":"#fff"},
{"offset":0.79,"color":"#66d"},{"offset":0.793,"color":"#66d"},{"offset":0.793,"color":"#fff"},{"offset":0.8,"color":"#fff"},
{"offset":0.8,"color":"#66d"},{"offset":0.803,"color":"#66d"},{"offset":0.803,"color":"#fff"},{"offset":0.81,"color":"#fff"},
{"offset":0.81,"color":"#66d"},{"offset":0.813,"color":"#66d"},{"offset":0.813,"color":"#fff"},{"offset":0.82,"color":"#fff"},
{"offset":0.82,"color":"#66d"},{"offset":0.823,"color":"#66d"},{"offset":0.823,"color":"#fff"},{"offset":0.83,"color":"#fff"},
{"offset":0.83,"color":"#66d"},{"offset":0.833,"color":"#66d"},{"offset":0.833,"color":"#fff"},{"offset":0.84,"color":"#fff"},
{"offset":0.84,"color":"#66d"},{"offset":0.843,"color":"#66d"},{"offset":0.843,"color":"#fff"},{"offset":0.85,"color":"#fff"},
{"offset":0.85,"color":"#66d"},{"offset":0.853,"color":"#66d"},{"offset":0.853,"color":"#fff"},{"offset":0.86,"color":"#fff"},
{"offset":0.86,"color":"#66d"},{"offset":0.863,"color":"#66d"},{"offset":0.863,"color":"#fff"},{"offset":0.87,"color":"#fff"},
{"offset":0.87,"color":"#66d"},{"offset":0.873,"color":"#66d"},{"offset":0.873,"color":"#fff"},{"offset":0.88,"color":"#fff"},
{"offset":0.88,"color":"#66d"},{"offset":0.883,"color":"#66d"},{"offset":0.883,"color":"#fff"},{"offset":0.89,"color":"#fff"},
{"offset":0.89,"color":"#66d"},{"offset":0.893,"color":"#66d"},{"offset":0.893,"color":"#fff"},{"offset":0.9,"color":"#fff"},
{"offset":0.9,"color":"#66d"},{"offset":0.903,"color":"#66d"},{"offset":0.903,"color":"#fff"},{"offset":0.91,"color":"#fff"},
{"offset":0.91,"color":"#66d"},{"offset":0.913,"color":"#66d"},{"offset":0.913,"color":"#fff"},{"offset":0.92,"color":"#fff"},
{"offset":0.92,"color":"#66d"},{"offset":0.923,"color":"#66d"},{"offset":0.923,"color":"#fff"},{"offset":0.93,"color":"#fff"},
{"offset":0.93,"color":"#66d"},{"offset":0.933,"color":"#66d"},{"offset":0.933,"color":"#fff"},{"offset":0.94,"color":"#fff"},
{"offset":0.94,"color":"#66d"},{"offset":0.943,"color":"#66d"},{"offset":0.943,"color":"#fff"},{"offset":0.95,"color":"#fff"},
{"offset":0.95,"color":"#66d"},{"offset":0.953,"color":"#66d"},{"offset":0.953,"color":"#fff"},{"offset":0.96,"color":"#fff"},
{"offset":0.96,"color":"#66d"},{"offset":0.963,"color":"#66d"},{"offset":0.963,"color":"#fff"},{"offset":0.97,"color":"#fff"},
{"offset":0.97,"color":"#66d"},{"offset":0.973,"color":"#66d"},{"offset":0.973,"color":"#fff"},{"offset":0.98,"color":"#fff"},
{"offset":0.98,"color":"#66d"},{"offset":0.983,"color":"#66d"},{"offset":0.983,"color":"#fff"},{"offset":0.99,"color":"#fff"},
{"offset":0.99,"color":"#66d"},{"offset":0.993,"color":"#66d"},{"offset":0.993,"color":"#fff"},{"offset":1,"color":"#fff"}
   ]}},
  "encoding":{
   "x":{"field":"q","type":"quantitative","scale":{"domain":[0,40]}},
   "y":{"field":"h0","type":"quantitative","scale":{"type":"log","domain":[0.001,11.75],"clamp":true},
     "axis":{"orient":"left","values":[0.001,0.002,0.003,0.004,0.005,0.006,0.007,0.008,0.009,0.01,0.02,0.03,0.04,0.05,0.06,0.07,0.08,0.09,0.1,0.2,0.3,0.4,0.5,0.6,0.7,0.8,0.9,1,2,3,4,5,6,7,8,9,10],
       "labelExpr":"datum.value == 10 ? '10' : datum.value == 1 ? '1' : datum.value == 0.1 ? '10⁻¹' : datum.value == 0.01 ? '10⁻²' : datum.value == 0.001 ? '10⁻³' : ''",
       "tickSize":{"condition":{"test":"indexof([0.001,0.01,0.1,1,10], datum.value) >= 0","value":-16},"value":-7},
       "tickColor":"#666","tickWidth":1,"domainColor":"#888","domainWidth":1,
       "labelFontWeight":"bold","labelFontSize":14,"labelColor":"#000","labelPadding":21,"labelFlush":false,"labelOverlap":false,"labelBound":false,"grid":false,
       "title":"normalised #","titleFontWeight":"bold","titleFontSize":15,"titleColor":"#000","titleAngle":-90,"titleAlign":"right","titleBaseline":"bottom","titleX":-35,"titleY":-8,"zindex":1}}}},
 {"data":{"name":"hist"},"transform":[{"filter":"datum.q >= 3.2"}],
  "mark":{"type":"area","interpolate":"step-after","fill":"#f37b7b","invalid":"show","clip":true},
  "encoding":{"x":{"field":"q","type":"quantitative","scale":{"domain":[0,40]}},"y":{"field":"hmu","type":"quantitative","scale":{"type":"log","domain":[0.001,11.75],"clamp":true}}}},
 {"data":{"name":"hist"},
  "mark":{"type":"line","interpolate":"step-after","color":"#0000ff","strokeWidth":2,"invalid":"show","clip":true},
  "encoding":{"x":{"field":"q","type":"quantitative","scale":{"domain":[0,40]}},"y":{"field":"h0","type":"quantitative","scale":{"type":"log","domain":[0.001,11.75],"clamp":true}}}},
 {"data":{"name":"hist"},
  "mark":{"type":"line","interpolate":"step-after","color":"#ff0000","strokeWidth":2,"invalid":"show","clip":true},
  "encoding":{"x":{"field":"q","type":"quantitative","scale":{"domain":[0,40]}},"y":{"field":"hmu","type":"quantitative","scale":{"type":"log","domain":[0.001,11.75],"clamp":true}}}},
 {"data":{"name":"one"},"mark":{"type":"rule","color":"#0000ff","strokeWidth":2},
  "encoding":{"x":{"datum":3.2,"type":"quantitative","scale":{"domain":[0,40]}},"y":{"datum":0.001,"type":"quantitative","scale":{"type":"log","domain":[0.001,11.75],"clamp":true}},"y2":{"datum":0.5}}},
 {"data":{"name":"one"},"mark":{"type":"rule","color":"#333333","strokeWidth":1.2},
  "encoding":{"x":{"datum":10.18,"type":"quantitative","scale":{"domain":[0,40]}},"x2":{"datum":4.19},"y":{"datum":1.27,"type":"quantitative","scale":{"type":"log","domain":[0.001,11.75],"clamp":true}},"y2":{"datum":0.3}}},
 {"data":{"name":"one"},"mark":{"type":"point","shape":"triangle","angle":240,"filled":true,"color":"#333333","size":40,"opacity":1},
  "encoding":{"x":{"datum":4.19,"type":"quantitative","scale":{"domain":[0,40]}},"y":{"datum":0.3,"type":"quantitative","scale":{"type":"log","domain":[0.001,11.75],"clamp":true}}}},
 {"data":{"name":"one"},"mark":{"type":"text","text":"med[q","font":"Liberation Sans","fontWeight":"bold","fontSize":13,"color":"#1a1aff","align":"left","baseline":"alphabetic"},
  "encoding":{"x":{"datum":8.4,"type":"quantitative","scale":{"domain":[0,40]}},"y":{"datum":1.6,"type":"quantitative","scale":{"type":"log","domain":[0.001,11.75],"clamp":true}}}},
 {"data":{"name":"one"},"mark":{"type":"text","text":"μ","font":"Liberation Sans","fontWeight":"bold","fontSize":8,"color":"#1a1aff","align":"left","baseline":"alphabetic","dx":39.5,"dy":3},
  "encoding":{"x":{"datum":8.4,"type":"quantitative","scale":{"domain":[0,40]}},"y":{"datum":1.6,"type":"quantitative","scale":{"type":"log","domain":[0.001,11.75],"clamp":true}}}},
 {"data":{"name":"one"},"mark":{"type":"text","text":"|H","font":"Liberation Sans","fontWeight":"bold","fontSize":13,"color":"#1a1aff","align":"left","baseline":"alphabetic","dx":44.5},
  "encoding":{"x":{"datum":8.4,"type":"quantitative","scale":{"domain":[0,40]}},"y":{"datum":1.6,"type":"quantitative","scale":{"type":"log","domain":[0.001,11.75],"clamp":true}}}},
 {"data":{"name":"one"},"mark":{"type":"text","text":"0","font":"Liberation Sans","fontWeight":"bold","fontSize":8,"color":"#1a1aff","align":"left","baseline":"alphabetic","dx":58,"dy":3},
  "encoding":{"x":{"datum":8.4,"type":"quantitative","scale":{"domain":[0,40]}},"y":{"datum":1.6,"type":"quantitative","scale":{"type":"log","domain":[0.001,11.75],"clamp":true}}}},
 {"data":{"name":"one"},"mark":{"type":"text","text":"]","font":"Liberation Sans","fontWeight":"bold","fontSize":13,"color":"#1a1aff","align":"left","baseline":"alphabetic","dx":62.5},
  "encoding":{"x":{"datum":8.4,"type":"quantitative","scale":{"domain":[0,40]}},"y":{"datum":1.6,"type":"quantitative","scale":{"type":"log","domain":[0.001,11.75],"clamp":true}}}},
 {"data":{"name":"one"},"mark":{"type":"rule","color":"#ff2020","strokeWidth":1.5},
  "encoding":{"x":{"datum":26.76,"type":"quantitative","scale":{"domain":[0,40]}},"x2":{"datum":29.1},"y":{"datum":4.59,"type":"quantitative","scale":{"type":"log","domain":[0.001,11.75],"clamp":true}}}},
 {"data":{"name":"one"},"mark":{"type":"rule","color":"#2020ff","strokeWidth":1.5},
  "encoding":{"x":{"datum":26.76,"type":"quantitative","scale":{"domain":[0,40]}},"x2":{"datum":29.1},"y":{"datum":0.93,"type":"quantitative","scale":{"type":"log","domain":[0.001,11.75],"clamp":true}}}},
 {"data":{"name":"one"},"mark":{"type":"text","text":"f(q","font":"Liberation Sans","fontSize":17,"color":"#111111","align":"left","baseline":"alphabetic"},
  "encoding":{"x":{"datum":29.57,"type":"quantitative","scale":{"domain":[0,40]}},"y":{"datum":2.894,"type":"quantitative","scale":{"type":"log","domain":[0.001,11.75],"clamp":true}}}},
 {"data":{"name":"one"},"mark":{"type":"text","text":"μ","font":"Liberation Sans","fontSize":10,"color":"#111111","align":"left","baseline":"alphabetic","dx":20.2,"dy":4},
  "encoding":{"x":{"datum":29.57,"type":"quantitative","scale":{"domain":[0,40]}},"y":{"datum":2.894,"type":"quantitative","scale":{"type":"log","domain":[0.001,11.75],"clamp":true}}}},
 {"data":{"name":"one"},"mark":{"type":"text","text":"|H","font":"Liberation Sans","fontSize":17,"color":"#111111","align":"left","baseline":"alphabetic","dx":26.5},
  "encoding":{"x":{"datum":29.57,"type":"quantitative","scale":{"domain":[0,40]}},"y":{"datum":2.894,"type":"quantitative","scale":{"type":"log","domain":[0.001,11.75],"clamp":true}}}},
 {"data":{"name":"one"},"mark":{"type":"text","text":"μ","font":"Liberation Sans","fontSize":10,"color":"#111111","align":"left","baseline":"alphabetic","dx":44,"dy":4},
  "encoding":{"x":{"datum":29.57,"type":"quantitative","scale":{"domain":[0,40]}},"y":{"datum":2.894,"type":"quantitative","scale":{"type":"log","domain":[0.001,11.75],"clamp":true}}}},
 {"data":{"name":"one"},"mark":{"type":"text","text":")","font":"Liberation Sans","fontSize":17,"color":"#111111","align":"left","baseline":"alphabetic","dx":50},
  "encoding":{"x":{"datum":29.57,"type":"quantitative","scale":{"domain":[0,40]}},"y":{"datum":2.894,"type":"quantitative","scale":{"type":"log","domain":[0.001,11.75],"clamp":true}}}},
 {"data":{"name":"one"},"mark":{"type":"text","text":"f(q","font":"Liberation Sans","fontSize":17,"color":"#111111","align":"left","baseline":"alphabetic"},
  "encoding":{"x":{"datum":29.57,"type":"quantitative","scale":{"domain":[0,40]}},"y":{"datum":0.598,"type":"quantitative","scale":{"type":"log","domain":[0.001,11.75],"clamp":true}}}},
 {"data":{"name":"one"},"mark":{"type":"text","text":"μ","font":"Liberation Sans","fontSize":10,"color":"#111111","align":"left","baseline":"alphabetic","dx":20.2,"dy":4},
  "encoding":{"x":{"datum":29.57,"type":"quantitative","scale":{"domain":[0,40]}},"y":{"datum":0.598,"type":"quantitative","scale":{"type":"log","domain":[0.001,11.75],"clamp":true}}}},
 {"data":{"name":"one"},"mark":{"type":"text","text":"|H","font":"Liberation Sans","fontSize":17,"color":"#111111","align":"left","baseline":"alphabetic","dx":26.5},
  "encoding":{"x":{"datum":29.57,"type":"quantitative","scale":{"domain":[0,40]}},"y":{"datum":0.598,"type":"quantitative","scale":{"type":"log","domain":[0.001,11.75],"clamp":true}}}},
 {"data":{"name":"one"},"mark":{"type":"text","text":"0","font":"Liberation Sans","fontSize":10,"color":"#111111","align":"left","baseline":"alphabetic","dx":44,"dy":4},
  "encoding":{"x":{"datum":29.57,"type":"quantitative","scale":{"domain":[0,40]}},"y":{"datum":0.598,"type":"quantitative","scale":{"type":"log","domain":[0.001,11.75],"clamp":true}}}},
 {"data":{"name":"one"},"mark":{"type":"text","text":")","font":"Liberation Sans","fontSize":17,"color":"#111111","align":"left","baseline":"alphabetic","dx":50},
  "encoding":{"x":{"datum":29.57,"type":"quantitative","scale":{"domain":[0,40]}},"y":{"datum":0.598,"type":"quantitative","scale":{"type":"log","domain":[0.001,11.75],"clamp":true}}}},
 {"data":{"name":"one"},"mark":{"type":"rect","fill":"#000000"},
  "encoding":{"x":{"datum":15.73,"type":"quantitative","scale":{"domain":[0,40]}},"x2":{"datum":23.57},"y":{"datum":0.126,"type":"quantitative","scale":{"type":"log","domain":[0.001,11.75],"clamp":true}},"y2":{"datum":0.505}}},
 {"data":{"name":"one"},"mark":{"type":"text","text":"μ","font":"DejaVu Sans","fontWeight":"bold","fontStyle":"italic","fontSize":16,"color":"#ffffff","align":"left","baseline":"alphabetic"},
  "encoding":{"x":{"datum":17.73,"type":"quantitative","scale":{"domain":[0,40]}},"y":{"datum":0.202,"type":"quantitative","scale":{"type":"log","domain":[0.001,11.75],"clamp":true}}}},
 {"data":{"name":"one"},"mark":{"type":"text","text":"s","font":"DejaVu Sans","fontWeight":"bold","fontStyle":"italic","fontSize":11,"color":"#ffffff","align":"left","baseline":"alphabetic","dx":12,"dy":4},
  "encoding":{"x":{"datum":17.73,"type":"quantitative","scale":{"domain":[0,40]}},"y":{"datum":0.202,"type":"quantitative","scale":{"type":"log","domain":[0.001,11.75],"clamp":true}}}},
 {"data":{"name":"one"},"mark":{"type":"text","text":"=5","font":"DejaVu Sans","fontWeight":"bold","fontSize":14,"color":"#ffffff","align":"left","baseline":"alphabetic","dx":29},
  "encoding":{"x":{"datum":17.73,"type":"quantitative","scale":{"domain":[0,40]}},"y":{"datum":0.202,"type":"quantitative","scale":{"type":"log","domain":[0.001,11.75],"clamp":true}}}}
]}
],
"resolve":{"scale":{"x":"independent","y":"independent"},"axis":{"x":"independent","y":"independent"}}
}
